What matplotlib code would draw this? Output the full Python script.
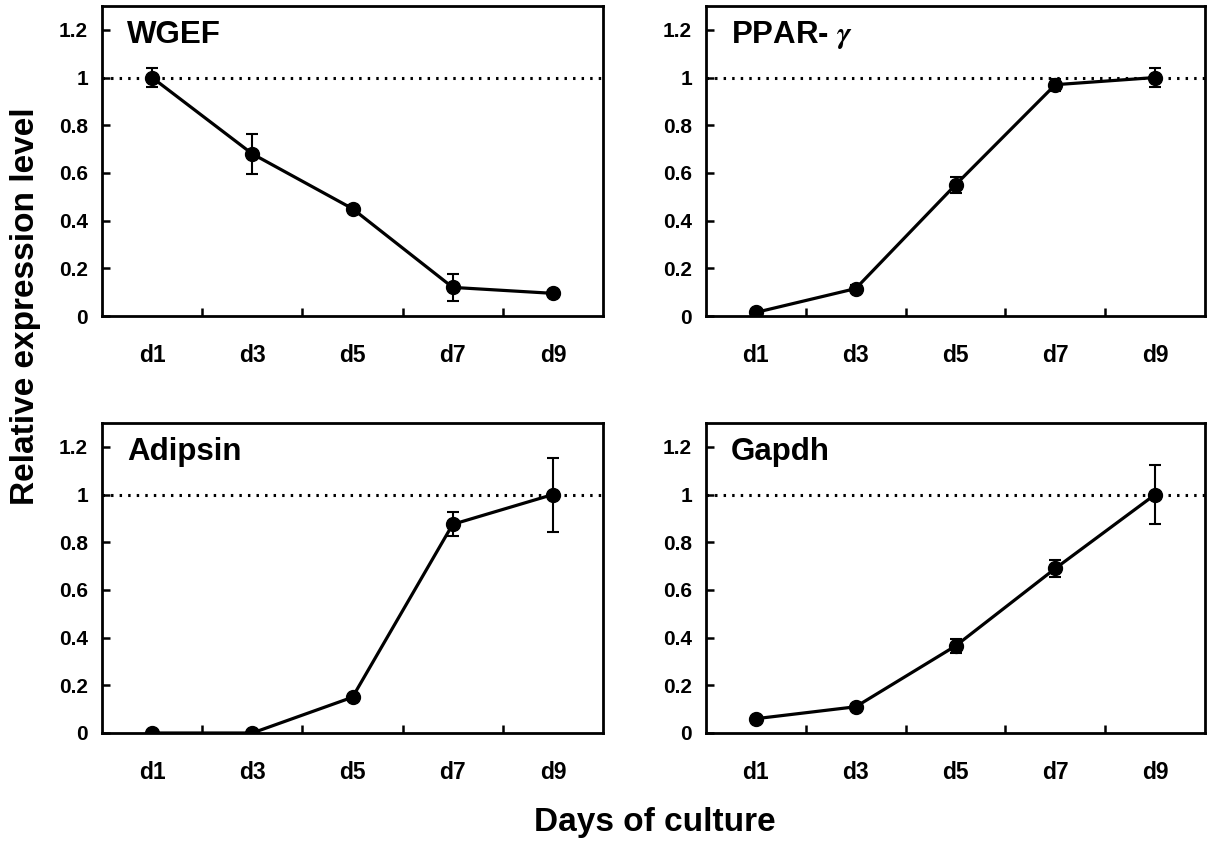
import matplotlib
matplotlib.use('Agg')
import matplotlib.pyplot as plt

plt.rcParams['font.family'] = ['Liberation Sans', 'DejaVu Sans']
plt.rcParams['font.weight'] = 'bold'
plt.rcParams['mathtext.fontset'] = 'stix'

days = ['d1', 'd3', 'd5', 'd7', 'd9']
y_ticks = [0, 0.2, 0.4, 0.6, 0.8, 1, 1.2]
y_tick_labels = ['0', '0.2', '0.4', '0.6', '0.8', '1', '1.2']

genes = ['WGEF', 'PPAR- $\\mathbf{\\mathit{\\gamma}}$', 'Adipsin', 'Gapdh']

wgef = [1.0, 0.68, 0.45, 0.12, 0.095]
wgef_err = [0.04, 0.085, 0.015, 0.055, 0.01]

ppar = [0.015, 0.115, 0.55, 0.97, 1.0]
ppar_err = [0.01, 0.015, 0.035, 0.025, 0.04]

adipsin = [0.0, 0.0, 0.15, 0.875, 1.0]
adipsin_err = [0.0, 0.0, 0.01, 0.05, 0.155]

gapdh = [0.06, 0.11, 0.365, 0.69, 1.0]
gapdh_err = [0.005, 0.01, 0.03, 0.035, 0.125]

values = [wgef, ppar, adipsin, gapdh]
errors = [wgef_err, ppar_err, adipsin_err, gapdh_err]

W, H = 1209, 844
fig = plt.figure(figsize=(W / 100, H / 100), dpi=100)

# axes boxes in pixels: left, top, right, bottom
boxes = [
    (102, 6, 603, 316),
    (706, 6, 1205, 316),
    (102, 423, 603, 733),
    (706, 423, 1205, 733),
]

x = list(range(len(days)))

for i in range(4):
    l, t, r, b = boxes[i]
    ax = fig.add_axes([l / W, 1 - b / H, (r - l) / W, (b - t) / H])

    ax.axhline(1, color='black', lw=2.2, ls=(0, (0.8, 2.0)), zorder=1)

    ax.errorbar(x, values[i], yerr=errors[i], color='black', lw=2.3,
                marker='o', markersize=10, elinewidth=1.5, capsize=4.5,
                capthick=1.5, zorder=3)

    ax.set_xlim(-0.5, 4.5)
    ax.set_ylim(0, 1.3)

    ax.set_xticks(x)
    ax.set_xticklabels(days, fontsize=16.5, fontweight='bold')
    ax.set_xticks([0.5, 1.5, 2.5, 3.5], minor=True)
    ax.tick_params(axis='x', which='major', length=0, pad=20)
    ax.tick_params(axis='x', which='minor', direction='in', length=6, width=1.8)

    ax.set_yticks(y_ticks)
    ax.set_yticklabels(y_tick_labels, fontsize=15, fontweight='bold')
    ax.tick_params(axis='y', direction='in', length=6, width=1.8, pad=10)

    for s in ax.spines.values():
        s.set_linewidth(2.0)

    ax.text(0.05, 0.905, genes[i], transform=ax.transAxes, fontsize=22.5,
            fontweight='bold', ha='left', va='center')

fig.text(26 / W, 1 - 306 / H, 'Relative expression level', rotation=90,
         fontsize=24, fontweight='bold', ha='center', va='center')
fig.text(655 / W, 1 - 822 / H, 'Days of culture', fontsize=24,
         fontweight='bold', ha='center', va='center')

fig.savefig('out.png', dpi=100)
